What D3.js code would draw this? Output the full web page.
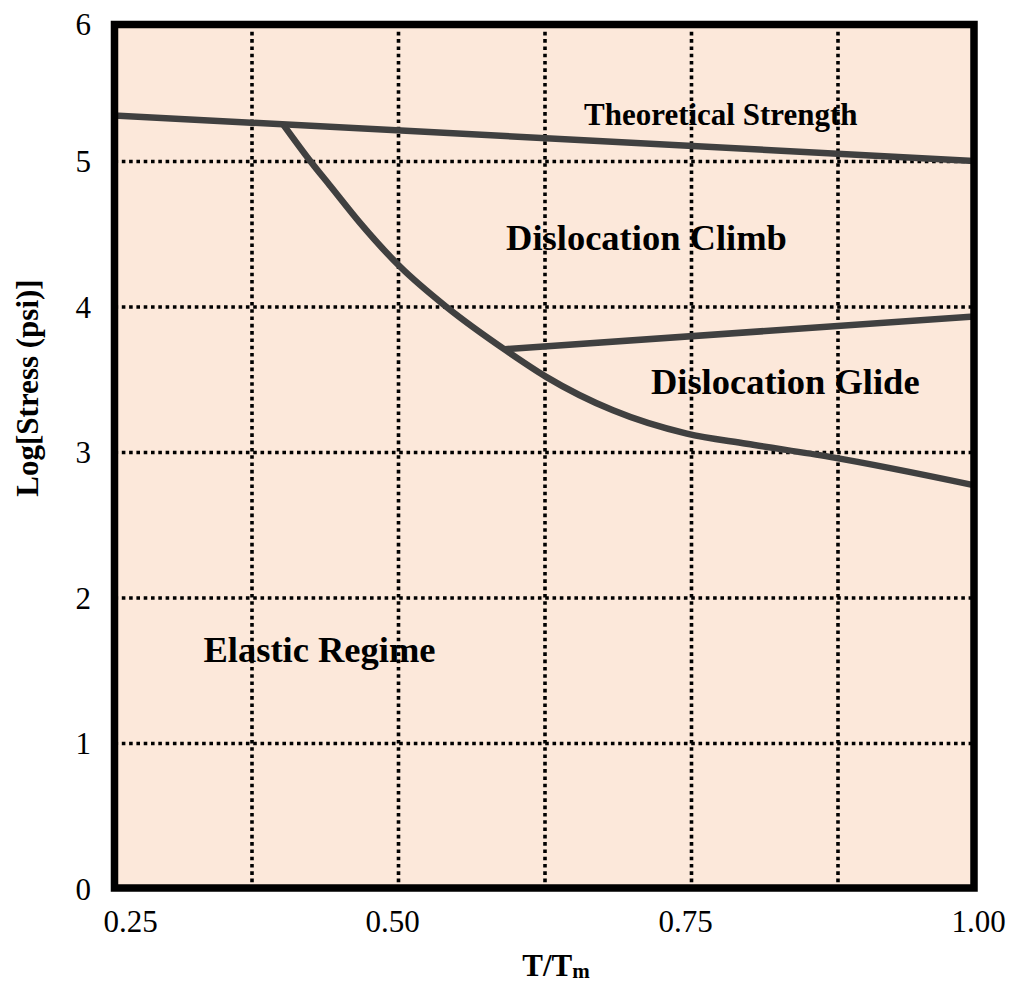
<!DOCTYPE html>
<html>
<head>
<meta charset="utf-8">
<script src="https://cdn.jsdelivr.net/npm/d3@7"></script>
<style>
  html, body { margin: 0; padding: 0; background: #ffffff; }
  svg { display: block; }
  text { font-family: "Liberation Serif", "Times New Roman", serif; fill: #000; }
</style>
</head>
<body>
<script>
// ---- data -------------------------------------------------------------
const xTicks = [0.25, 0.50, 0.75, 1.00];
const xTickLabels = ["0.25", "0.50", "0.75", "1.00"];
const yTicks = [0, 1, 2, 3, 4, 5, 6];
const xGrid = [0.375, 0.5, 0.625, 0.75, 0.875];
const yGrid = [1, 2, 3, 4, 5];

// theoretical strength limit (T/Tm, log stress)
const strengthT = [0.25, 1.00];
const strengthS = [5.32, 5.00];

// boundary between elastic regime and dislocation flow
const flowT = [0.402, 0.425, 0.442, 0.467, 0.501, 0.541, 0.592, 0.626, 0.683, 0.746, 0.797, 0.868, 1.00];
const flowS = [5.25, 5.00, 4.83, 4.58, 4.28, 4.00, 3.70, 3.52, 3.29, 3.13, 3.06, 2.97, 2.76];

// boundary between climb and glide
const glideT = [0.591, 1.00];
const glideS = [3.71, 3.94];

const regionNames = ["Theoretical Strength", "Dislocation Climb", "Dislocation Glide", "Elastic Regime"];

// ---- layout -----------------------------------------------------------
const W = 1011, H = 994;
const frame = { left: 114.5, right: 974, top: 24.5, bottom: 888 };

const x = d3.scaleLinear().domain([0.25, 1.0]).range([105.5, 984.5]);
const y = d3.scaleLinear().domain([0, 6]).range([889, 16]);

const svg = d3.select("body").append("svg")
  .attr("width", W).attr("height", H);

svg.append("defs").append("clipPath").attr("id", "plotClip")
  .append("rect")
  .attr("x", frame.left).attr("y", frame.top)
  .attr("width", frame.right - frame.left)
  .attr("height", frame.bottom - frame.top);

// plot background
svg.append("rect")
  .attr("x", frame.left).attr("y", frame.top)
  .attr("width", frame.right - frame.left)
  .attr("height", frame.bottom - frame.top)
  .attr("fill", "#FCE8DA");

// dotted grid
const grid = svg.append("g").attr("clip-path", "url(#plotClip)")
  .attr("stroke", "#000").attr("stroke-width", 3.6)
  .attr("stroke-dasharray", "3.6,3.7");
grid.selectAll("line.v").data(xGrid).join("line").attr("class", "v")
  .attr("x1", d => x(d)).attr("x2", d => x(d))
  .attr("y1", frame.top).attr("y2", frame.bottom);
grid.selectAll("line.h").data(yGrid).join("line").attr("class", "h")
  .attr("x1", frame.left).attr("x2", frame.right)
  .attr("y1", d => y(d)).attr("y2", d => y(d));

// region labels
const labelPlace = [
  { t: 0.775, s: 5.25, size: 31 },
  { t: 0.7116, s: 4.39, size: 36.5 },
  { t: 0.830, s: 3.40, size: 36.5 },
  { t: 0.4326, s: 1.56, size: 36.5 }
];
svg.append("g").selectAll("text").data(regionNames).join("text")
  .attr("x", (d, i) => x(labelPlace[i].t))
  .attr("y", (d, i) => y(labelPlace[i].s))
  .attr("text-anchor", "middle")
  .attr("font-weight", "bold")
  .attr("font-size", (d, i) => labelPlace[i].size)
  .text(d => d);

// boundary curves
const curves = svg.append("g").attr("clip-path", "url(#plotClip)")
  .attr("fill", "none").attr("stroke", "#404040")
  .attr("stroke-width", 6.5).attr("stroke-linejoin", "round");

const straight = d3.line().x(d => x(d[0])).y(d => y(d[1]));
const smooth = d3.line().x(d => x(d[0])).y(d => y(d[1])).curve(d3.curveMonotoneX);

curves.append("path").attr("d", straight(d3.zip(strengthT, strengthS)));
curves.append("path").attr("d", smooth(d3.zip(flowT, flowS)));
curves.append("path").attr("d", straight(d3.zip(glideT, glideS)));

// heavy frame
svg.append("rect")
  .attr("x", frame.left).attr("y", frame.top)
  .attr("width", frame.right - frame.left)
  .attr("height", frame.bottom - frame.top)
  .attr("fill", "none").attr("stroke", "#000").attr("stroke-width", 7.5);

// y tick labels
svg.append("g").selectAll("text").data(yTicks).join("text")
  .attr("x", 91)
  .attr("y", d => Math.min(Math.max(y(d), frame.top), frame.bottom + 6))
  .attr("dy", "0.35em")
  .attr("text-anchor", "end")
  .attr("font-size", 31)
  .text(d => d);

// x tick labels
svg.append("g").selectAll("text").data(xTicks).join("text")
  .attr("x", d => Math.max(x(d) - 6, frame.left + 16))
  .attr("y", 932)
  .attr("text-anchor", "middle")
  .attr("font-size", 31)
  .text((d, i) => xTickLabels[i]);

// axis titles
const xt = svg.append("text")
  .attr("x", 556).attr("y", 976)
  .attr("text-anchor", "middle")
  .attr("font-weight", "bold").attr("font-size", 31);
xt.append("tspan").text("T/T");
xt.append("tspan").attr("font-size", 21).attr("dy", 2).text("m");

svg.append("text")
  .attr("transform", "translate(38,388) rotate(-90)")
  .attr("text-anchor", "middle")
  .attr("font-weight", "bold").attr("font-size", 31)
  .text("Log[Stress (psi)]");
</script>
</body>
</html>
